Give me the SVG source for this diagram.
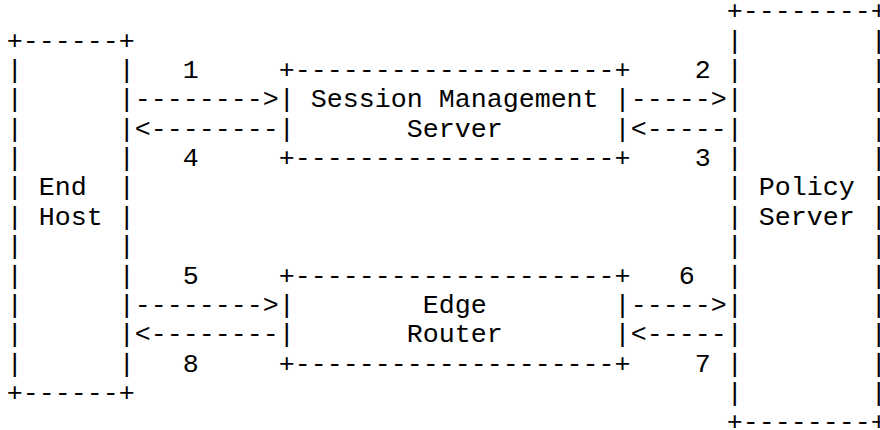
<svg xmlns="http://www.w3.org/2000/svg" width="880" height="430" viewBox="0 0 880 430">
<style>
text{font-family:"Liberation Mono","Courier New",monospace;font-size:26.67px;fill:#000;white-space:pre}
</style>
<rect width="880" height="430" fill="#fff"/>
<g id="end-host">
<text xml:space="preserve"><tspan x="6.7" y="48.66">+------+</tspan><tspan x="6.7" y="78.02">|      |</tspan><tspan x="6.7" y="107.38">|      |</tspan><tspan x="6.7" y="136.74">|      |</tspan><tspan x="6.7" y="166.1">|      |</tspan><tspan x="6.7" y="195.46">| End  |</tspan><tspan x="6.7" y="224.82">| Host |</tspan><tspan x="6.7" y="254.18">|      |</tspan><tspan x="6.7" y="283.54">|      |</tspan><tspan x="6.7" y="312.9">|      |</tspan><tspan x="6.7" y="342.26">|      |</tspan><tspan x="6.7" y="371.62">|      |</tspan><tspan x="6.7" y="400.98">+------+</tspan></text>
</g>
<g id="session-management-server">
<text xml:space="preserve"><tspan x="278.7" y="78.02">+--------------------+</tspan><tspan x="278.7" y="107.38">| Session Management |</tspan><tspan x="278.7" y="136.74">|       Server       |</tspan><tspan x="278.7" y="166.1">+--------------------+</tspan></text>
</g>
<g id="edge-router">
<text xml:space="preserve"><tspan x="278.7" y="283.54">+--------------------+</tspan><tspan x="278.7" y="312.9">|        Edge        |</tspan><tspan x="278.7" y="342.26">|       Router       |</tspan><tspan x="278.7" y="371.62">+--------------------+</tspan></text>
</g>
<g id="policy-server">
<text xml:space="preserve"><tspan x="726.7" y="19.3">+--------+</tspan><tspan x="726.7" y="48.66">|        |</tspan><tspan x="726.7" y="78.02">|        |</tspan><tspan x="726.7" y="107.38">|        |</tspan><tspan x="726.7" y="136.74">|        |</tspan><tspan x="726.7" y="166.1">|        |</tspan><tspan x="726.7" y="195.46">| Policy |</tspan><tspan x="726.7" y="224.82">| Server |</tspan><tspan x="726.7" y="254.18">|        |</tspan><tspan x="726.7" y="283.54">|        |</tspan><tspan x="726.7" y="312.9">|        |</tspan><tspan x="726.7" y="342.26">|        |</tspan><tspan x="726.7" y="371.62">|        |</tspan><tspan x="726.7" y="400.98">|        |</tspan><tspan x="726.7" y="430.34">+--------+</tspan></text>
</g>
<g id="connectors">
<text x="134.7" y="107.38">--------&gt;</text>
<text x="134.7" y="136.74">&lt;--------</text>
<text x="630.7" y="107.38">-----&gt;</text>
<text x="630.7" y="136.74">&lt;-----</text>
<text x="182.7" y="78.02">1</text>
<text x="694.7" y="78.02">2</text>
<text x="694.7" y="166.1">3</text>
<text x="182.7" y="166.1">4</text>
<text x="134.7" y="312.9">--------&gt;</text>
<text x="134.7" y="342.26">&lt;--------</text>
<text x="630.7" y="312.9">-----&gt;</text>
<text x="630.7" y="342.26">&lt;-----</text>
<text x="182.7" y="283.54">5</text>
<text x="678.7" y="283.54">6</text>
<text x="694.7" y="371.62">7</text>
<text x="182.7" y="371.62">8</text>
</g>
</svg>
